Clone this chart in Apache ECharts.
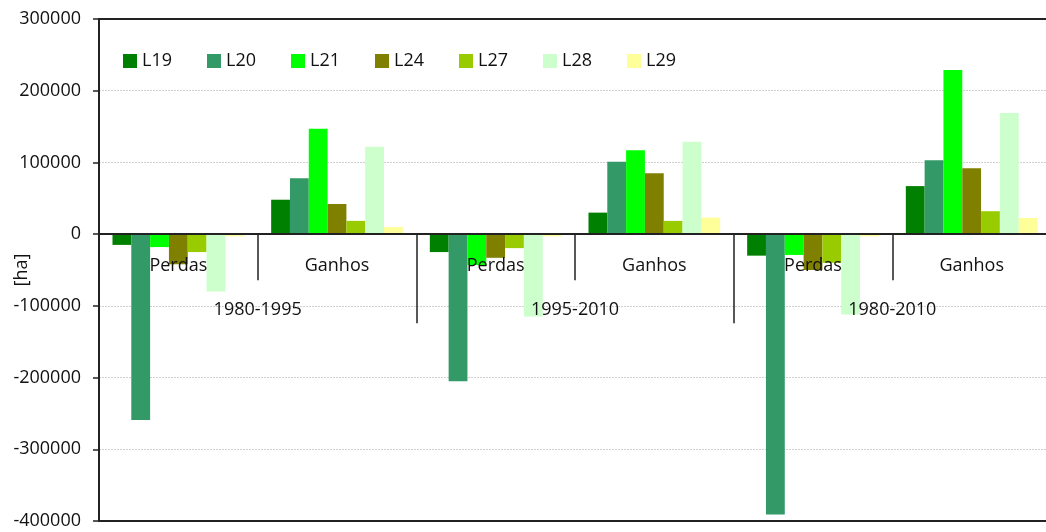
<!DOCTYPE html>
<html>
<head>
<meta charset="utf-8">
<script src="https://cdn.jsdelivr.net/npm/echarts@6/dist/echarts.min.js"></script>
<style>
  html, body { margin: 0; padding: 0; background: #fff; }
  #main { width: 1046px; height: 532px; }
</style>
</head>
<body>
<div id="main"></div>
<script>
// categorias (dois niveis)
var tipos = ["Perdas", "Ganhos", "Perdas", "Ganhos", "Perdas", "Ganhos"];
var periodos = ["1980-1995", "1995-2010", "1980-2010"];

// valores em ha
var L19 = [-15000, 48000, -25000, 30000, -30000, 67000];
var L20 = [-259000, 78000, -205000, 101000, -391000, 103000];
var L21 = [-18000, 147000, -43000, 117000, -29000, 229000];
var L24 = [-42000, 42000, -33000, 85000, -50000, 92000];
var L27 = [-25000, 18500, -19500, 18500, -40000, 32000];
var L28 = [-80000, 122000, -115000, 129000, -112000, 169000];
var L29 = [-3000, 10000, -3000, 23000, -3000, 22500];

var yTicks = { min: -400000, max: 300000, interval: 100000 };

var nomes = ["L19", "L20", "L21", "L24", "L27", "L28", "L29"];
var dados = [L19, L20, L21, L24, L27, L28, L29];
var cores = ["#008000", "#339966", "#00ff00", "#808000", "#99cc00", "#ccffcc", "#ffff99"];

var fonte = "'Open Sans', 'Noto Sans', sans-serif";

var W = 1046, H = 532;
var gTop = 19, gBottom = 11;
// eixo das categorias passa no zero: desloca-o de baixo para cima
var plotH = H - gTop - gBottom;
var zeroOffset = -plotH * (0 - yTicks.min) / (yTicks.max - yTicks.min);

var myChart = echarts.init(document.getElementById("main"));

var series = nomes.map(function (n, i) {
  return {
    name: n,
    type: "bar",
    xAxisIndex: 0,
    yAxisIndex: 0,
    data: dados[i],
    barGap: "0%",
    barCategoryGap: "17%",
    itemStyle: { color: cores[i] }
  };
});

var option = {
  animation: false,
  color: cores,
  textStyle: { fontFamily: fonte },
  grid: {
    left: 99,
    right: -5,
    top: gTop,
    bottom: gBottom,
    containLabel: false,
    outerBoundsMode: "none",
    show: true,
    borderColor: "#222",
    borderWidth: 2,
    backgroundColor: "transparent"
  },
  legend: {
    data: nomes,
    left: 123,
    top: 52,
    padding: 0,
    itemWidth: 14,
    itemHeight: 14,
    itemGap: 14,
    icon: "rect",
    textStyle: {
      fontFamily: fonte,
      fontSize: 18,
      color: "#111",
      width: 51,
      lineHeight: 18
    }
  },
  xAxis: [
    {
      type: "category",
      data: tipos,
      position: "bottom",
      offset: zeroOffset,
      z: 10,
      axisLine: { onZero: false, lineStyle: { color: "#222", width: 2 } },
      axisTick: { show: true, length: 46, lineStyle: { color: "#222", width: 1.5 } },
      axisLabel: { margin: 23, fontSize: 18, color: "#111", fontFamily: fonte, interval: 0 },
      splitLine: { show: false }
    },
    {
      type: "category",
      data: periodos,
      position: "bottom",
      offset: zeroOffset,
      z: 10,
      axisLine: { show: false, onZero: false },
      axisTick: { show: true, length: 89, lineStyle: { color: "#222", width: 1.5 } },
      axisLabel: { margin: 67, fontSize: 18, color: "#111", fontFamily: fonte, interval: 0 },
      splitLine: { show: false }
    }
  ],
  yAxis: {
    type: "value",
    min: yTicks.min,
    max: yTicks.max,
    interval: yTicks.interval,
    name: "[ha]",
    nameLocation: "middle",
    nameGap: 68,
    nameRotate: 90,
    nameMoveOverlap: false,
    nameTextStyle: { fontSize: 18, color: "#111", fontFamily: fonte },
    axisLine: { show: true, lineStyle: { color: "#222", width: 2 } },
    axisTick: { show: true, length: 6, lineStyle: { color: "#222", width: 1.5 } },
    axisLabel: {
      margin: 18, fontSize: 18, color: "#111", fontFamily: fonte,
      formatter: function (v) { return String(v); }
    },
    splitLine: {
      show: true,
      lineStyle: {
        color: ["#222", "#d0d0d0", "#d0d0d0", "#d0d0d0", "#d0d0d0", "#d0d0d0", "#d0d0d0", "#222"],
        width: 1,
        type: [2, 1]
      }
    }
  },
  series: series
};

myChart.setOption(option);
</script>
</body>
</html>
